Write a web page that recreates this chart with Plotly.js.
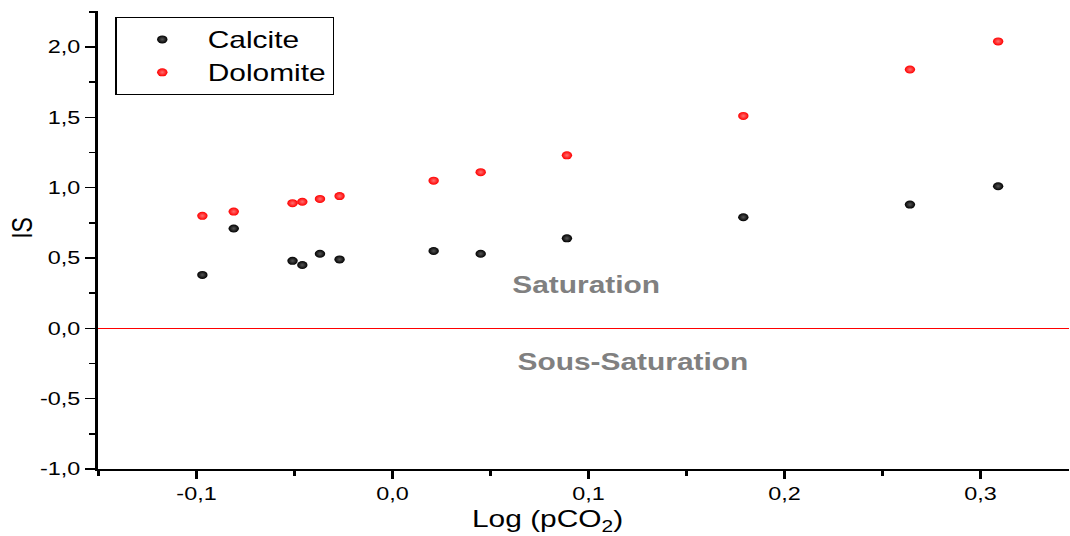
<!DOCTYPE html>
<html>
<head>
<meta charset="utf-8">
<script src="https://cdn.plot.ly/plotly-3.0.1.min.js"></script>
<style>
  html, body { margin: 0; padding: 0; background: #fff; overflow: hidden; }
  #wrap { width: 1070px; height: 536px; overflow: hidden; }
  #chart { width: 823px; height: 536px; transform: scaleX(1.30012); transform-origin: 0 0; }
</style>
</head>
<body>
<div id="wrap"><div id="chart"></div></div>
<script>
// Data
const logPCO2 = [-0.097, -0.081, -0.051, -0.046, -0.037, -0.027, 0.021, 0.045, 0.089, 0.179, 0.264, 0.309];
const calcite = [0.38, 0.71, 0.48, 0.45, 0.53, 0.49, 0.55, 0.53, 0.64, 0.79, 0.88, 1.01];
const dolomite = [0.80, 0.83, 0.89, 0.90, 0.92, 0.94, 1.05, 1.11, 1.23, 1.51, 1.84, 2.04];
const seriesNames = ["Calcite", "Dolomite"];

const xTickVals = [-0.1, 0.0, 0.1, 0.2, 0.3];
const xTickText = ["-0,1", "0,0", "0,1", "0,2", "0,3"];
const yTickVals = [-1.0, -0.5, 0.0, 0.5, 1.0, 1.5, 2.0];
const yTickText = ["-1,0", "-0,5", "0,0", "0,5", "1,0", "1,5", "2,0"];

const zoneLabels = ["Saturation", "Sous-Saturation"];
const zoneX = [0.099, 0.123];
const zoneY = [0.31, -0.237];

const FONT = "Liberation Sans, Arial, sans-serif";
const xRange = [-0.1505, 0.345];
const yRange = [-1.0, 2.256];

const traces = [
  {
    x: logPCO2, y: calcite, name: seriesNames[0], type: "scatter", mode: "markers",
    marker: { color: "#000000", size: 8, gradient: { type: "radial", color: "#555555" } },
    hoverinfo: "skip"
  },
  {
    x: logPCO2, y: dolomite, name: seriesNames[1], type: "scatter", mode: "markers",
    marker: { color: "#ff0000", size: 8, gradient: { type: "radial", color: "#ff7070" } },
    hoverinfo: "skip"
  }
];

const axisCommon = {
  showgrid: false, showline: true, linecolor: "#000", linewidth: 1.6,
  tickcolor: "#000", tickwidth: 1.6, ticklen: 8,
  tickfont: { family: FONT, size: 18, color: "#000" }
};

const layout = {
  width: 823, height: 536,
  margin: { l: 75, r: 1, t: 11, b: 67 },
  paper_bgcolor: "#fff", plot_bgcolor: "#fff",
  showlegend: true,
  legend: {
    x: 0.0185, y: 0.987, xanchor: "left", yanchor: "top",
    bgcolor: "#fff", bordercolor: "#000", borderwidth: 1,
    font: { family: FONT, size: 23, color: "#000" },
    itemwidth: 60,
    tracegroupgap: 0
  },
  xaxis: Object.assign({}, axisCommon, {
    range: xRange, ticks: "outside",
    tickmode: "array", tickvals: xTickVals, ticktext: xTickText,
    zeroline: false,
    minor: { dtick: 0.05, tick0: 0, ticks: "outside", ticklen: 5, tickwidth: 1.6, tickcolor: "#000" }
  }),
  yaxis: Object.assign({}, axisCommon, {
    range: yRange, ticks: "outside",
    tickmode: "array", tickvals: yTickVals, ticktext: yTickText,
    zeroline: true, zerolinecolor: "#ff0000", zerolinewidth: 1,
    minor: { dtick: 0.25, tick0: 0, ticks: "outside", ticklen: 5, tickwidth: 1.6, tickcolor: "#000" }
  }),
  xaxis2: Object.assign({}, axisCommon, {
    overlaying: "x", side: "top", anchor: "y", matches: "x", range: xRange,
    ticks: "inside", showticklabels: false, zeroline: false,
    tickmode: "array", tickvals: xTickVals,
    minor: { dtick: 0.05, tick0: 0, ticks: "inside", ticklen: 5, tickwidth: 1.6, tickcolor: "#000" }
  }),
  yaxis2: Object.assign({}, axisCommon, {
    overlaying: "y", side: "right", anchor: "x", range: yRange,
    ticks: "inside", showticklabels: false, zeroline: false,
    tickmode: "array", tickvals: yTickVals,
    minor: { dtick: 0.25, tick0: 0, ticks: "inside", ticklen: 5, tickwidth: 1.6, tickcolor: "#000" }
  }),
  annotations: [
    { text: zoneLabels[0], x: zoneX[0], y: zoneY[0], xref: "x", yref: "y", showarrow: false,
      font: { family: FONT, size: 23, color: "#808080", weight: "bold" } },
    { text: zoneLabels[1], x: zoneX[1], y: zoneY[1], xref: "x", yref: "y", showarrow: false,
      font: { family: FONT, size: 23, color: "#808080", weight: "bold" } },
    { text: "Log (pCO<sub>2</sub>)", x: 0.4628, y: -0.112, xref: "paper", yref: "paper",
      xanchor: "center", yanchor: "middle", showarrow: false,
      font: { family: FONT, size: 23, color: "#000" } },
    { text: "IS", x: -0.078, y: 0.526, xref: "paper", yref: "paper", textangle: -90,
      xanchor: "center", yanchor: "middle", showarrow: false,
      font: { family: FONT, size: 23, color: "#000" } }
  ]
};

Plotly.newPlot("chart", traces, layout, { displayModeBar: false, staticPlot: true });
</script>
</body>
</html>
